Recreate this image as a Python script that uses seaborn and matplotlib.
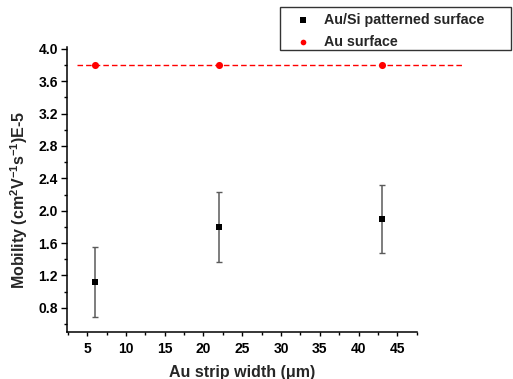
import matplotlib
matplotlib.use("Agg")
import matplotlib.pyplot as plt
import seaborn as sns
import numpy as np
import pandas as pd
from matplotlib.patches import Rectangle
from matplotlib.ticker import MultipleLocator, FormatStrFormatter

# data
strip_width = [6, 22, 43]
mobility_ausi = [1.12, 1.80, 1.90]
mobility_err = [0.43, 0.43, 0.42]
mobility_au = [3.80, 3.80, 3.80]
au_line_x = [3.7, 53.5]
au_line_y = [3.80, 3.80]

sns.set_style("ticks")
plt.rcParams["font.family"] = ["Liberation Sans", "DejaVu Sans"]
plt.rcParams["font.weight"] = "bold"
plt.rcParams["mathtext.fontset"] = "custom"
plt.rcParams["mathtext.bf"] = "Liberation Sans:bold"
plt.rcParams["mathtext.rm"] = "Liberation Sans:bold"
plt.rcParams["mathtext.default"] = "bf"

df = pd.DataFrame({"width": strip_width, "ausi": mobility_ausi,
                   "err": mobility_err, "au": mobility_au})

fig = plt.figure(figsize=(5.13, 3.79), dpi=100)
ax = fig.add_axes([0.1306, 0.124, 0.6817, 0.7512])

# error bars for the patterned surface
eb = ax.errorbar(df["width"], df["ausi"], yerr=df["err"], fmt="none",
                 ecolor="#5a5a5a", elinewidth=1.1, capsize=2, capthick=1.0,
                 zorder=2)
for cap in eb[1]:
    cap.set_color("#111111")

# dashed guide line for Au surface (runs past the x axis end)
ax.plot(au_line_x, au_line_y, color="red", linestyle=(0, (4, 2.2)),
        linewidth=1.0, clip_on=False, zorder=2)

sns.scatterplot(data=df, x="width", y="ausi", marker="s", color="black",
                s=22, edgecolor="black", linewidth=0, ax=ax, zorder=3,
                label="Au/Si patterned surface")
sns.scatterplot(data=df, x="width", y="au", marker="o", color="red",
                s=26, edgecolor="red", linewidth=0, ax=ax, zorder=3,
                label="Au surface", clip_on=False)

ax.set_xlim(2.4, 47.5)
ax.set_ylim(0.5, 4.02)
ax.xaxis.set_minor_locator(MultipleLocator(2.5))
ax.yaxis.set_minor_locator(MultipleLocator(0.2))
ax.set_yticks(np.arange(0.8, 4.01, 0.4))
ax.yaxis.set_major_formatter(FormatStrFormatter("%.1f"))
ax.set_xticks(np.arange(5, 46, 5))

ax.tick_params(axis="y", which="major", direction="out", length=4.5,
               width=1, labelsize=10, colors="black", pad=2)
ax.tick_params(axis="y", which="minor", direction="out", length=2.5,
               width=1, colors="black")
ax.tick_params(axis="x", which="major", direction="out", length=3,
               width=1, labelsize=10, colors="black", pad=4)
ax.tick_params(axis="x", which="minor", direction="out", length=2.5,
               width=1, colors="black")
for lab in ax.get_xticklabels() + ax.get_yticklabels():
    lab.set_fontweight("bold")

sns.despine(ax=ax)
for side in ["left", "bottom"]:
    ax.spines[side].set_linewidth(1.1)
    ax.spines[side].set_color("black")

ax.set_xlabel("Au strip width (\u03bcm)", fontsize=11.5, fontweight="bold",
              labelpad=7)
ax.set_ylabel("Mobility (cm$^{2}$V$^{-1}$s$^{-1}$)E-5", fontsize=11.5,
              fontweight="bold")
ax.yaxis.set_label_coords(-0.106, 0.463)

handles, labels = ax.get_legend_handles_labels()
ax.get_legend().remove()
leg = fig.legend(handles, labels, loc="upper left",
                 bbox_to_anchor=(294 / 513, 1 - 13 / 379),
                 frameon=False, prop={"weight": "bold", "size": 10.3},
                 borderpad=0, labelspacing=0.55, handletextpad=0.9,
                 handlelength=1.2, borderaxespad=0, markerscale=0.8)
# legend frame drawn as its own box, like the source software
fig.patches.append(Rectangle((280 / 513, 1 - 50 / 379), 231 / 513, 43 / 379,
                             transform=fig.transFigure, fill=False,
                             edgecolor="#333333", linewidth=1.0))

fig.savefig("out.png", dpi=100)
